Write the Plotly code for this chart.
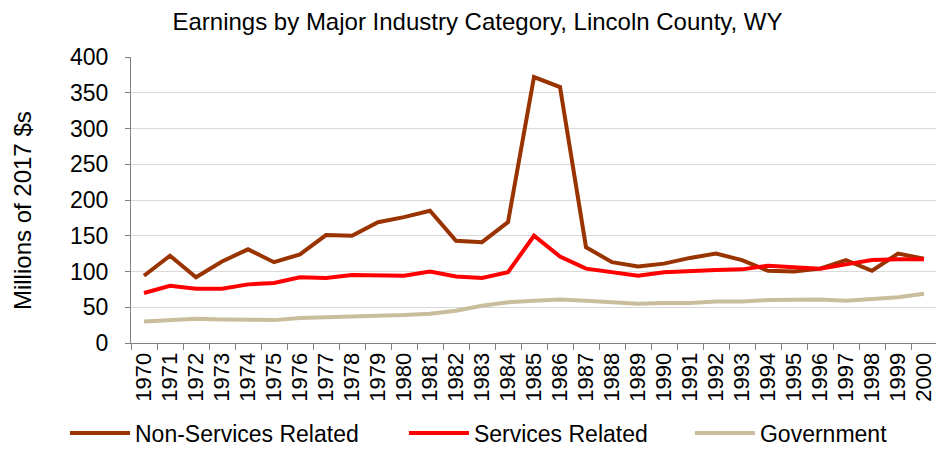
import plotly.graph_objects as go

years = [str(y) for y in range(1970, 2001)]

non_services = [94, 122, 92, 114, 131, 113, 124, 151, 150, 169, 176, 185, 143, 141, 169,
                372, 358, 134, 113, 107, 111, 119, 125, 116, 101, 100, 104, 116, 101, 125, 118]
services = [70, 80, 76, 76, 82, 84, 92, 91, 95, 94, 94, 100, 93, 91, 99,
            150, 121, 104, 99, 94, 99, 101, 102, 103, 108, 106, 104, 110, 116, 117, 117]
government = [30, 32, 34, 33, 32, 32, 35, 36, 37, 37, 39, 41, 45, 52, 57,
              59, 61, 59, 57, 55, 56, 56, 58, 58, 60, 60, 61, 59, 61, 64, 69]

series = [
    ("Non-Services Related", non_services, "#993300", "legend"),
    ("Services Related", services, "#FF0000", "legend2"),
    ("Government", government, "#C8BE9C", "legend3"),
]

fig = go.Figure()
for name, vals, color, lg in series:
    fig.add_trace(go.Scatter(
        x=years, y=vals, name=name, mode="lines",
        line=dict(color=color, width=4), legend=lg, showlegend=True,
    ))

# une légende par série pour coller aux positions de l'original
legend_style = dict(
    orientation="h", yref="paper",
    xanchor="left", y=-0.3147, yanchor="middle",
    font=dict(size=23), bgcolor="rgba(0,0,0,0)",
    itemwidth=60, visible=True,
)

fig.update_layout(
    width=936, height=449,
    showlegend=True,
    margin=dict(l=123, r=7, t=49, b=114, autoexpand=False),
    paper_bgcolor="white", plot_bgcolor="white",
    font=dict(family="Liberation Sans, Arial, sans-serif", color="black"),
    title=dict(
        text="Earnings by Major Industry Category, Lincoln County, WY",
        x=0.5016, xanchor="center", y=0.9688, yanchor="middle",
        font=dict(size=24),
    ),
    xaxis=dict(
        type="category", tickangle=-90, tickfont=dict(size=22),
        tickmode="array", tickvals=years,
        showline=True, linecolor="#808080", linewidth=1,
        ticks="outside", ticklen=6, tickcolor="#808080", tickson="boundaries",
        showgrid=False, range=[-0.5, 30.5],
    ),
    yaxis=dict(
        range=[0, 400], dtick=50, tickfont=dict(size=23), ticklabelstandoff=12,
        showline=True, linecolor="#808080", linewidth=1,
        ticks="outside", ticklen=5, tickcolor="#808080",
        showgrid=True, gridcolor="#D9D9D9", gridwidth=1, zeroline=False,
    ),
    legend=dict(legend_style, xref="container", x=0.0609),
    legend2=dict(legend_style, xref="container", x=0.423),
    legend3=dict(legend_style, xref="container", x=0.7286),
)

# titre de l'axe Y en annotation (le titre d'axe se place mal avec ticklabelstandoff)
fig.add_annotation(
    text="Millions of 2017 $s", textangle=-90,
    xref="paper", yref="paper", x=-0.1352, y=0.4615,
    xanchor="center", yanchor="middle", showarrow=False,
    font=dict(size=24),
)

fig.write_html("out.html")
